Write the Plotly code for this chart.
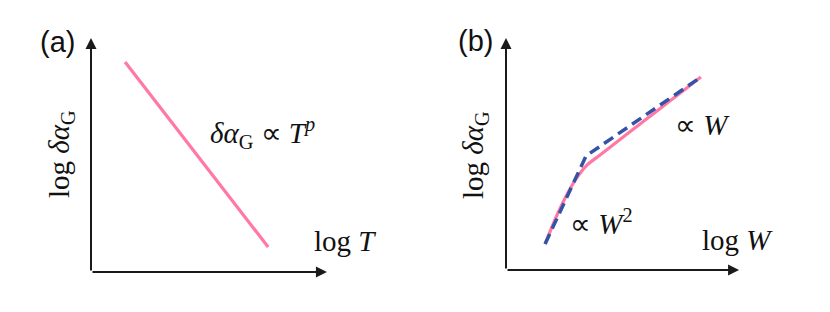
import plotly.graph_objects as go

# ---- data (arbitrary log units) ----
# panel (a): log delta alpha_G vs log T (power law, straight line)
a_logT = [1.42, 7.38]
a_logdA = [9.05, 1.08]

# panel (b): log delta alpha_G vs log W (crossover W^2 -> W)
b_logW = [1.67, 2.22, 2.78, 3.16, 3.45, 4.02, 4.79, 5.73, 6.37, 7.35, 8.33]
b_logdA = [1.13, 2.48, 3.61, 4.20, 4.55, 5.00, 5.61, 6.35, 6.85, 7.62, 8.39]

# asymptotes (dashed)
b_asym_W = [1.67, 3.42, 8.33]
b_asym_dA = [1.13, 4.96, 8.39]

W, H = 830, 312
OFF = 8  # page body margin in the browser
PINK = "#ff78a6"
BLUE = "#3553a6"
AX = "#1a1a1a"
SERIF = "Liberation Serif, Times New Roman, serif"
SANS = "Liberation Sans, Arial, sans-serif"
FS = 29

RANGE = [0, 10.5]

def dom_x(px0, ppu):
    p = px0 - OFF
    return [p / W, (p + ppu * RANGE[1]) / W]

def dom_y(py0, ppu):
    p = py0 - OFF
    return [1 - p / H, 1 - (p - ppu * RANGE[1]) / H]

def paper(px, py):
    return (px - OFF) / W, 1 - (py - OFF) / H

fig = go.Figure()
fig.add_trace(go.Scatter(x=a_logT, y=a_logdA, mode="lines",
                         line=dict(color=PINK, width=3.2), xaxis="x", yaxis="y",
                         showlegend=False, hoverinfo="skip"))
fig.add_trace(go.Scatter(x=b_logW, y=b_logdA, mode="lines",
                         line=dict(color=PINK, width=3.2, shape="spline", smoothing=1.0),
                         xaxis="x2", yaxis="y2", showlegend=False, hoverinfo="skip"))
fig.add_trace(go.Scatter(x=b_asym_W, y=b_asym_dA, mode="lines",
                         line=dict(color=BLUE, width=3.5, dash="11px,6px"),
                         xaxis="x2", yaxis="y2", showlegend=False, hoverinfo="skip"))

ann = []
# axis arrows
for xr, yr, xt, yt in [("x", "y", 9.83, 10.09), ("x2", "y2", 9.96, 10.09)]:
    ann.append(dict(x=xt, y=0, ax=0, ay=0, xref=xr, yref=yr, axref=xr, ayref=yr,
                    showarrow=True, arrowhead=2, arrowsize=1.1, arrowwidth=2,
                    arrowcolor=AX, text="", standoff=0, startstandoff=0))
    ann.append(dict(x=0, y=yt, ax=0, ay=0, xref=xr, yref=yr, axref=xr, ayref=yr,
                    showarrow=True, arrowhead=2, arrowsize=1.1, arrowwidth=2,
                    arrowcolor=AX, text="", standoff=0, startstandoff=0))

def txt(s, x, y, xr, yr, font=SERIF, size=FS, xanchor="left", angle=0):
    ann.append(dict(text=s, x=x, y=y, xref=xr, yref=yr, showarrow=False,
                    xanchor=xanchor, yanchor="middle", textangle=angle,
                    font=dict(family=font, size=size, color="#111")))

def ptxt(s, px, py, **kw):
    x, y = paper(px, py)
    txt(s, x, y, "paper", "paper", **kw)

ptxt("(a)", 57, 42, font=SANS, size=29, xanchor="center")
ptxt("(b)", 475, 41, font=SANS, size=29, xanchor="center")
ptxt("log <i>δα</i><sub>G</sub>", 61, 154, xanchor="center", angle=-90)
ptxt("log <i>δα</i><sub>G</sub>", 475, 155, xanchor="center", angle=-90)
txt("<i>δα</i><sub>G</sub> ∝ <i>T<sup>p</sup></i>", 4.875, 5.99, "x", "y")
txt("log <i>T</i>", 9.21, 1.34, "x", "y")
txt("∝ <i>W</i>", 7.14, 6.30, "x2", "y2")
txt("∝ <i>W</i><sup>2</sup>", 2.65, 2.09, "x2", "y2")
txt("log <i>W</i>", 8.29, 1.30, "x2", "y2")

axcommon = dict(visible=False, range=RANGE, fixedrange=True)
fig.update_layout(
    width=W, height=H, margin=dict(l=0, r=0, t=0, b=0),
    paper_bgcolor="white", plot_bgcolor="rgba(0,0,0,0)",
    xaxis=dict(domain=dom_x(91, 24), anchor="y", **axcommon),
    yaxis=dict(domain=dom_y(272, 23.2), anchor="x", **axcommon),
    xaxis2=dict(domain=dom_x(506, 23.4), anchor="y2", **axcommon),
    yaxis2=dict(domain=dom_y(270, 23.0), anchor="x2", **axcommon),
    annotations=ann, showlegend=False,
)
fig.write_html("out.html", config={"displayModeBar": False})
